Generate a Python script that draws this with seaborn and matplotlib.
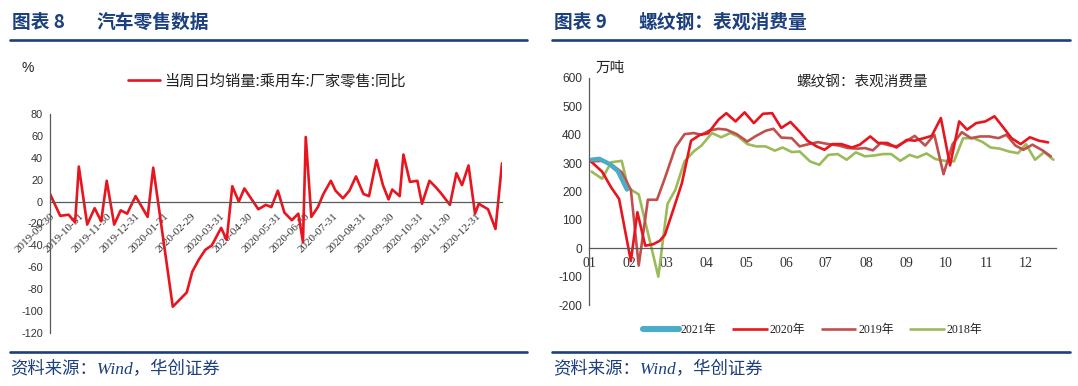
import numpy as np
import pandas as pd
import matplotlib
matplotlib.use("Agg")
import matplotlib.pyplot as plt
import seaborn as sns
from matplotlib.lines import Line2D

sns.set_theme(style="white")
plt.rcParams["font.family"] = ["Liberation Sans", "Noto Sans CJK SC", "DejaVu Sans"]
plt.rcParams["axes.unicode_minus"] = False

CJK = ["Noto Sans CJK SC", "DejaVu Sans"]
SERIF = ["Liberation Serif", "Noto Sans CJK SC"]
NAVY = "#1b3f7f"
AXC = "#595959"

# ---------------- left chart: car retail yoy ----------------
retail_label = "当周日均销量:乘用车:厂家零售:同比"
retail_dates = ['2019-09-30', '2019-10-11', '2019-10-20', '2019-10-27', '2019-10-31',
                '2019-11-09', '2019-11-17', '2019-11-24', '2019-11-30',
                '2019-12-08', '2019-12-15', '2019-12-22', '2019-12-31',
                '2020-01-13', '2020-01-19', '2020-02-09', '2020-02-24',
                '2020-03-01', '2020-03-08', '2020-03-15', '2020-03-22',
                '2020-04-01', '2020-04-07', '2020-04-13', '2020-04-20', '2020-04-26',
                '2020-05-11', '2020-05-19', '2020-05-25',
                '2020-06-01', '2020-06-08', '2020-06-16', '2020-06-23', '2020-06-28',
                '2020-07-01', '2020-07-07', '2020-07-14', '2020-07-20', '2020-07-28',
                '2020-08-02', '2020-08-10', '2020-08-17', '2020-08-24',
                '2020-09-01', '2020-09-07', '2020-09-15', '2020-09-22', '2020-09-28',
                '2020-10-02', '2020-10-10', '2020-10-14', '2020-10-21', '2020-10-29',
                '2020-11-03', '2020-11-11', '2020-11-18', '2020-11-24',
                '2020-12-03', '2020-12-10', '2020-12-16', '2020-12-23', '2020-12-30',
                '2021-01-03', '2021-01-13', '2021-01-21', '2021-01-28']
retail_yoy = [7, -13, -12, -19, 32,
              -21, -6, -18, 19,
              -21, -8, -11, 5,
              -14, 31, -96, -83,
              -64, -53, -44, -40,
              -24, -35, 14, 0, 12,
              -7, -3, -5,
              10, -10, -17, -11, -37,
              59, -14, -5, 7, 19,
              10, 3, 10, 23,
              7, 5, 38, 15, 2,
              11, 5, 43, 18, 19,
              -2, 19, 13, 7,
              -3, 26, 15, 33, -11,
              -2, -7, -25, 35]
retail_ticks = ['2019-09-30', '2019-10-31', '2019-11-30', '2019-12-31', '2020-01-31',
                '2020-02-29', '2020-03-31', '2020-04-30', '2020-05-31', '2020-06-30',
                '2020-07-31', '2020-08-31', '2020-09-30', '2020-10-31', '2020-11-30',
                '2020-12-31']
retail_yticks = [80, 60, 40, 20, 0, -20, -40, -60, -80, -100, -120]

# ---------------- right chart: rebar apparent consumption ----------------
month_labels = ['01', '02', '03', '04', '05', '06', '07', '08', '09', '10', '11', '12']
steel_yticks = [600, 500, 400, 300, 200, 100, 0, -100, -200]

days_2021 = ['01-03', '01-09', '01-17', '01-23', '01-30']
vals_2021 = [312, 315, 296, 272, 207]

days_2020 = ['01-02', '01-11', '01-18', '01-24', '02-02', '02-07', '02-13', '02-19', '02-24', '02-28',
             '03-06', '03-13', '03-20', '03-27', '04-02', '04-10', '04-16', '04-23', '04-30',
             '05-07', '05-14', '05-21', '05-28', '06-04', '06-11', '06-17', '06-24', '06-30',
             '07-06', '07-13', '07-21', '07-27', '08-04', '08-10', '08-17', '08-24',
             '09-01', '09-07', '09-14', '09-20', '09-27', '10-04', '10-11', '10-17', '10-24', '10-31',
             '11-07', '11-14', '11-20', '11-27', '12-04', '12-11', '12-18']
vals_2020 = [308, 270, 214, 174, -45, 127, 9, 14, 26, 47,
             130, 229, 379, 400, 405, 453, 476, 447, 479,
             441, 474, 476, 424, 445, 411, 379, 359, 347,
             367, 367, 355, 365, 394, 371, 371, 355,
             382, 379, 388, 396, 459, 292, 447, 418, 441, 447,
             465, 424, 388, 367, 391, 379, 373]

days_2019 = ['01-03', '01-11', '01-18', '01-26', '02-02', '02-08', '02-15', '02-22', '02-28',
             '03-08', '03-15', '03-22', '03-28', '04-03', '04-10', '04-16', '04-24',
             '05-02', '05-08', '05-16', '05-22', '05-28', '06-05', '06-11', '06-18', '06-25',
             '07-03', '07-11', '07-18', '07-25', '07-31', '08-06', '08-12', '08-19', '08-24',
             '09-01', '09-07', '09-15', '09-22', '09-29', '10-06', '10-13', '10-20', '10-27',
             '11-03', '11-10', '11-16', '11-23', '11-29', '12-06', '12-14', '12-20']
vals_2019 = [306, 308, 296, 268, 206, -61, 171, 171, 247,
             355, 402, 406, 400, 415, 421, 418, 402,
             376, 394, 414, 421, 390, 388, 359, 367, 374,
             367, 362, 353, 351, 353, 345, 371, 362, 359,
             379, 396, 362, 400, 261, 367, 409, 388, 394,
             394, 388, 400, 362, 347, 365, 344, 324]

days_2018 = ['01-03', '01-11', '01-18', '01-26', '01-31', '02-08', '02-23',
             '03-02', '03-08', '03-15', '03-22', '03-28', '04-05', '04-12', '04-19', '04-25',
             '05-02', '05-09', '05-16', '05-23', '05-29', '06-05', '06-11', '06-19', '06-26',
             '07-03', '07-10', '07-17', '07-24', '07-31', '08-07', '08-14', '08-20', '08-27',
             '09-03', '09-09', '09-16', '09-23', '09-30', '10-07', '10-14', '10-22', '10-29',
             '11-04', '11-11', '11-18', '11-25', '12-01', '12-08', '12-15', '12-22']
vals_2018 = [270, 245, 303, 308, 212, 190, -100,
             156, 206, 306, 341, 362, 406, 391, 406, 394,
             367, 359, 359, 344, 355, 339, 341, 306, 294,
             329, 332, 312, 338, 324, 327, 332, 332, 308,
             329, 320, 334, 314, 308, 306, 388, 388, 374,
             355, 351, 341, 335, 367, 312, 339, 312]

series = [("2021年", days_2021, vals_2021, "#4bacc6", 3.2),
          ("2020年", days_2020, vals_2020, "#e8141e", 1.9),
          ("2019年", days_2019, vals_2019, "#c0504d", 1.9),
          ("2018年", days_2018, vals_2018, "#9bbb59", 1.9)]

W, H = 1078, 386
fig = plt.figure(figsize=(W / 100, H / 100), dpi=100)
fig.patch.set_facecolor("white")


def fx(px):
    return px / W


def fy(py):
    return 1 - py / H


# ---------- headers / footers ----------
for (x0, x1) in [(10, 527), (552, 1070)]:
    fig.add_artist(Line2D([fx(x0), fx(x1)], [fy(40), fy(40)], color=NAVY, lw=1.9))
    fig.add_artist(Line2D([fx(x0), fx(x1)], [fy(352), fy(352)], color=NAVY, lw=1.9))

fig.text(fx(12), fy(22), "图表 8", fontsize=13.5, weight="bold", color=NAVY,
         family=CJK, va="center", ha="left")
fig.text(fx(96), fy(22), "汽车零售数据", fontsize=13.5, weight="bold", color=NAVY,
         family=CJK, va="center", ha="left")
fig.text(fx(554), fy(22), "图表 9", fontsize=13.5, weight="bold", color=NAVY,
         family=CJK, va="center", ha="left")
fig.text(fx(638), fy(22), "螺纹钢：表观消费量", fontsize=13.5, weight="bold", color=NAVY,
         family=CJK, va="center", ha="left")
for x0 in [10, 553]:
    fig.text(fx(x0), fy(370), "资料来源：Wind，华创证券", fontsize=12.5, style="italic",
             color=NAVY, family=["Liberation Serif", "Noto Sans CJK SC"], va="center", ha="left")

# ---------- left chart ----------
ax1 = fig.add_axes([fx(50), fy(333), fx(502) - fx(50), fy(114) - fy(333)])
df1 = pd.DataFrame({"date": pd.to_datetime(retail_dates), "yoy": retail_yoy})
sns.lineplot(data=df1, x="date", y="yoy", ax=ax1, color="#e8141e", lw=1.9,
             label=retail_label)
ax1.set_xlim(df1["date"].min(), df1["date"].max())
ax1.set_ylim(-120, 80)
ax1.spines["bottom"].set_position(("data", 0))
for s in ["top", "right"]:
    ax1.spines[s].set_visible(False)
for s in ["bottom", "left"]:
    ax1.spines[s].set_color(AXC)
    ax1.spines[s].set_linewidth(0.9)
ax1.tick_params(axis="both", direction="out", length=3, width=0.8, color=AXC, pad=2)
ax1.tick_params(axis="x", pad=4)
ax1.set_yticks(retail_yticks)
ax1.set_yticklabels([str(v) for v in retail_yticks])
for lab in ax1.get_yticklabels():
    lab.set_fontsize(7.8)
    lab.set_color("#333333")
tick_dates = pd.to_datetime(retail_ticks)
ax1.set_xticks(tick_dates)
ax1.set_xticklabels(retail_ticks)
for lab in ax1.get_xticklabels():
    lab.set_rotation(45)
    lab.set_ha("right")
    lab.set_va("top")
    lab.set_rotation_mode("anchor")
    lab.set_fontsize(8.0)
    lab.set_family(SERIF)
    lab.set_color("#333333")
ax1.set_xlabel("")
ax1.set_ylabel("")
ax1.grid(False)
ax1.set_facecolor("white")
leg1 = ax1.legend(loc="center left", bbox_to_anchor=(fx(128), fy(81)),
                  bbox_transform=fig.transFigure, frameon=False, borderpad=0,
                  borderaxespad=0, handlelength=2.1, handletextpad=0.3,
                  prop={"family": CJK, "size": 11})
for t in leg1.get_texts():
    t.set_color("#222222")
fig.text(fx(22), fy(68), "%", fontsize=10, color="#222222", va="center", ha="left")

# ---------- right chart ----------
ax2 = fig.add_axes([fx(589), fy(305), fx(1056) - fx(589), fy(78) - fy(305)])
handles = {}
for name, days, vals, col, lw in reversed(series):
    d = pd.DataFrame({"date": pd.to_datetime(["2001-" + s for s in days]), "value": vals})
    sns.lineplot(data=d, x="date", y="value", ax=ax2, color=col, lw=lw)
    handles[name] = Line2D([], [], color=col, lw=lw + (1.2 if lw > 3 else 0),
                           solid_capstyle="round" if lw > 3 else "butt")
ax2.set_xlim(pd.Timestamp("2001-01-01"), pd.Timestamp("2001-12-24"))
ax2.set_ylim(-200, 600)
ax2.spines["bottom"].set_position(("data", 0))
for s in ["top", "right"]:
    ax2.spines[s].set_visible(False)
for s in ["bottom", "left"]:
    ax2.spines[s].set_color(AXC)
    ax2.spines[s].set_linewidth(0.9)
ax2.tick_params(axis="both", direction="out", length=3, width=0.8, color=AXC, pad=2)
ax2.tick_params(axis="x", pad=3)
ax2.set_yticks(steel_yticks)
ax2.set_yticklabels([str(v) for v in steel_yticks])
for lab in ax2.get_yticklabels():
    lab.set_fontsize(8.6)
    lab.set_color("#333333")
ax2.set_xticks(pd.to_datetime(["2001-%s-01" % m for m in month_labels]))
ax2.set_xticklabels(month_labels)
for lab in ax2.get_xticklabels():
    lab.set_fontsize(10)
    lab.set_family(SERIF)
    lab.set_color("#333333")
ax2.set_xlabel("")
ax2.set_ylabel("")
ax2.grid(False)
ax2.set_facecolor("white")
order = [s[0] for s in series]
leg2 = ax2.legend([handles[n] for n in order], order, loc="center left",
                  bbox_to_anchor=(fx(643), fy(330)), bbox_transform=fig.transFigure,
                  ncol=4, frameon=False, borderpad=0, borderaxespad=0,
                  handlelength=3.0, handletextpad=0.15, columnspacing=1.3,
                  prop={"family": SERIF, "size": 8.6})
for t in leg2.get_texts():
    t.set_color("#222222")
fig.text(fx(862), fy(82), "螺纹钢：表观消费量", fontsize=10.5, family=CJK,
         color="#222222", ha="center", va="center")
fig.text(fx(596), fy(68), "万吨", fontsize=10.5, family=CJK, color="#222222",
         ha="left", va="center")

fig.savefig("out.png", dpi=100, facecolor="white")
